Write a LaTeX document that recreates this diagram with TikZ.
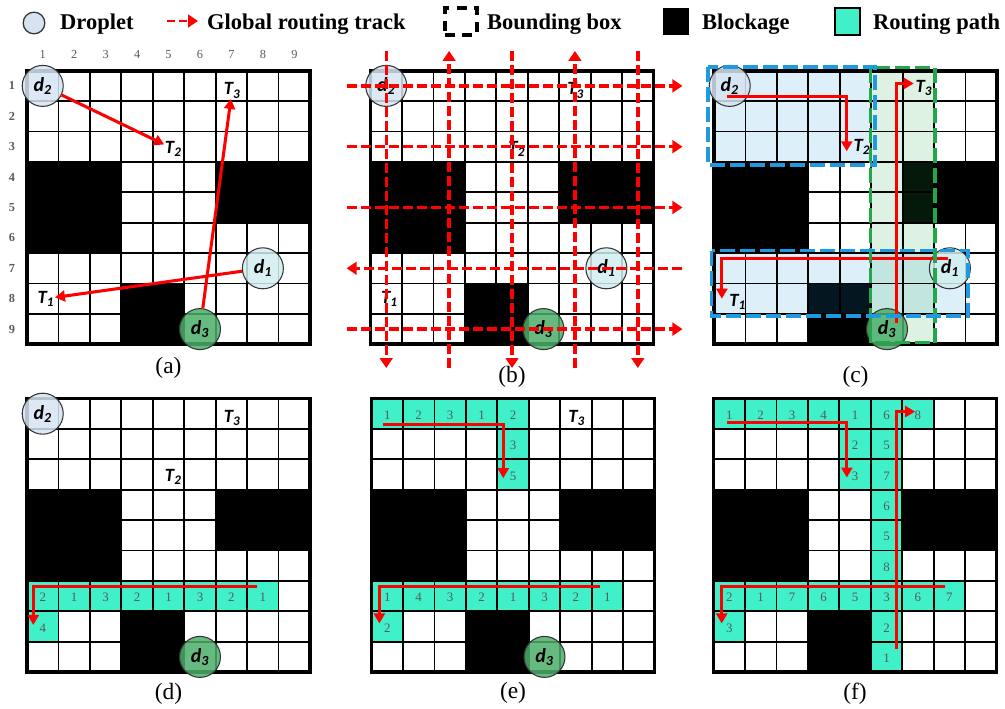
\documentclass[tikz,border=0pt]{standalone}
\usepackage{fontspec}
\setmainfont{Liberation Serif}
\newfontfamily\lblfont{Carlito}
\usepackage{tikz}
\usetikzlibrary{arrows.meta}
\definecolor{tealpath}{HTML}{40F0C8}
\definecolor{dblue}{HTML}{D6E4F2}
\definecolor{dcyan}{HTML}{D2EEF0}
\definecolor{dgreen}{HTML}{4CAF6A}
\definecolor{boxblue}{HTML}{1E9BE0}
\definecolor{boxgreen}{HTML}{22A84A}
\definecolor{labgray}{HTML}{5A5A5A}
\tikzstyle{droplet} = [circle, draw=black!80, line width=0.9pt, minimum size=12.3mm, inner sep=0pt, fill opacity=0.85, text opacity=1, font=\lblfont\bfseries\itshape\fontsize{17}{17}\selectfont]
\tikzstyle{target} = [inner sep=0.5pt, font=\lblfont\bfseries\itshape\fontsize{16}{16}\selectfont]
\tikzstyle{route} = [draw=red, line width=2.6pt, -{Triangle[length=3mm, width=3.3mm]}]
\tikzstyle{track} = [draw=red, line width=2.9pt, dash pattern=on 3mm off 1.2mm, -{Triangle[length=3mm, width=3.8mm]}]
\tikzstyle{bbox} = [line width=2.8pt, dash pattern=on 4.5mm off 1.5mm]
\tikzstyle{cellnum} = [inner sep=0pt, text=black!65, font=\fontsize{11}{11}\selectfont]
\tikzstyle{collabel} = [inner sep=0pt, text=labgray, font=\fontsize{10.5}{10.5}\selectfont]
\tikzstyle{rowlabel} = [collabel, font=\bfseries\fontsize{10.5}{10.5}\selectfont]
\tikzstyle{legendtext} = [anchor=base west, inner sep=0pt, font=\bfseries\fontsize{19.2}{20}\selectfont]
\tikzstyle{caption} = [font=\fontsize{20}{20}\selectfont]
\tikzstyle{pathcell} = [fill=tealpath]
% chip with blockages
\newcommand{\chipbase}{%
  \fill[white] (0,0) rectangle (9,9);
  \fill[black] (0,3) rectangle (3,6);
  \fill[black] (6,3) rectangle (9,5);
  \fill[black] (3,7) rectangle (5,9);
}
% electrode grid
\newcommand{\chiplines}{%
  \foreach \i in {1,...,8} {
    \draw[line width=1.5pt] (\i,0) -- (\i,9);
    \draw[line width=1.5pt] (0,\i) -- (9,\i);
  }
  \draw[line width=3.2pt] (0,0) rectangle (9,9);
}
\begin{document}
\begin{tikzpicture}[x=0.3mm, y=-0.3mm]
    \useasboundingbox (0,0) rectangle (1005,709);

    % legend
    \node[circle, draw=black!80, line width=1.1pt, fill=dblue, minimum size=6.5mm, inner sep=0pt] (legdrop) at (34,23) {};
    \node[legendtext] (legdroptxt) at (60,30) {Droplet};
    \coordinate (legtrks) at (167,21);
    \coordinate (legtrke) at (198,21);
    \path[track, line width=2.4pt, dash pattern=on 2.4mm off 1.2mm] (legtrks) -- (legtrke);
    \node[legendtext] (legtrktxt) at (207,30) {Global routing track};
    \node[draw=black, line width=2.6pt, dash pattern=on 3mm off 2.2mm, minimum width=9.6mm, minimum height=8.1mm, inner sep=0pt] (legbox) at (461,21.5) {};
    \node[legendtext] (legboxtxt) at (487,30) {Bounding box};
    \node[fill=black, minimum width=7.8mm, minimum height=8.1mm, inner sep=0pt] (legblock) at (676,21.5) {};
    \node[legendtext] (legblocktxt) at (702,30) {Blockage};
    \node[pathcell, draw=black, line width=1.2pt, minimum width=7.5mm, minimum height=8.1mm, inner sep=0pt] (legpath) at (847.5,21.5) {};
    \node[legendtext] (legpathtxt) at (873,30) {Routing path};

    % (a) droplets and targets
    \begin{scope}[shift={(27,70.7)}, x=9.435mm, y=-9.12mm, name prefix=a-]
    \chipbase
    \chiplines
    \foreach \i in {1,...,9} {
        \node[collabel] (col\i) at (\i-0.5,-0.52) {\i};
        \node[rowlabel] (row\i) at (-0.48,\i-0.5) {\i};
    }
    \node[droplet, fill=dblue] (d2) at (0.5,0.5) {d\textsubscript{2}};
    \node[droplet, fill=dcyan] (d1) at (7.5,6.5) {d\textsubscript{1}};
    \node[droplet, fill=dgreen] (d3) at (5.5,8.5) {d\textsubscript{3}};
    \node[target] (T3) at (6.52,0.65) {T\textsubscript{3}};
    \node[target] (T2) at (4.65,2.57) {T\textsubscript{2}};
    \node[target] (T1) at (0.6,7.5) {T\textsubscript{1}};
    \path[route] (d2) -- (T2);
    \path[route] (d3) -- (T3);
    \path[route] (d1) -- (T1);
    \end{scope}
    \node[caption] (capa) at (168.5,368) {(a)};

    % (b) global routing tracks
    \begin{scope}[shift={(370.5,70.7)}, x=9.435mm, y=-9.12mm, name prefix=b-]
    \chipbase
    \chiplines
    \node[droplet, fill=dblue] (d2) at (0.5,0.5) {d\textsubscript{2}};
    \node[droplet, fill=dcyan] (d1) at (7.5,6.5) {d\textsubscript{1}};
    \node[droplet, fill=dgreen] (d3) at (5.5,8.5) {d\textsubscript{3}};
    \node[target] (T3) at (6.52,0.65) {T\textsubscript{3}};
    \node[target] (T2) at (4.65,2.57) {T\textsubscript{2}};
    \node[target] (T1) at (0.6,7.5) {T\textsubscript{1}};
    \foreach \r in {1,3,5,7,9} {
        \coordinate (w\r) at (-0.76,\r-0.5);
        \coordinate (e\r) at (9.92,\r-0.5);
    }
    \foreach \c in {1,3,5,7,9} {
        \coordinate (n\c) at (\c-0.5,-0.65);
        \coordinate (s\c) at (\c-0.5,9.78);
    }
    \foreach \r in {1,3,5,9} \path[track] (w\r) -- (e\r);
    \path[track] (e7) -- (w7);
    \foreach \c in {1,5,9} \path[track] (n\c) -- (s\c);
    \foreach \c in {3,7} \path[track] (s\c) -- (n\c);
    \end{scope}
    \node[caption] (capb) at (512,377) {(b)};

    % (c) bounding boxes
    \begin{scope}[shift={(714,70.7)}, x=9.435mm, y=-9.12mm, name prefix=c-]
    \chipbase
    \fill[boxblue, fill opacity=0.15] (0,0) rectangle (5,3);
    \fill[boxblue, fill opacity=0.15] (0,6) rectangle (8,8);
    \fill[boxgreen, fill opacity=0.15] (5,0) rectangle (7,9);
    \chiplines
    \node[droplet, fill=dblue] (d2) at (0.5,0.5) {d\textsubscript{2}};
    \node[droplet, fill=dcyan] (d1) at (7.5,6.5) {d\textsubscript{1}};
    \node[droplet, fill=dgreen] (d3) at (5.5,8.5) {d\textsubscript{3}};
    \node[target] (T3) at (6.67,0.57) {T\textsubscript{3}};
    \node[target] (T2) at (4.7,2.51) {T\textsubscript{2}};
    \node[target] (T1) at (0.75,7.6) {T\textsubscript{1}};
    \coordinate (p2s) at (0.4,0.85);
    \coordinate (p2e) at (4.22,2.65);
    \coordinate (p3s) at (5.8,8.3);
    \coordinate (p3e) at (6.35,0.42);
    \coordinate (p1s) at (7.45,6.17);
    \coordinate (p1e) at (0.25,7.5);
    \path[route] (p2s) -| (p2e);
    \path[route] (p3s) |- (p3e);
    \path[route] (p1s) -| (p1e);
    \draw[bbox, draw=boxgreen] (4.97,-0.1) rectangle (7.03,8.95);
    \draw[bbox, draw=boxblue] (-0.19,-0.12) rectangle (5.12,3.1);
    \draw[bbox, draw=boxblue] (-0.07,5.92) rectangle (8.08,8.07);
    \end{scope}
    \node[caption] (capc) at (855.5,377) {(c)};

    % (d) routing d1
    \begin{scope}[shift={(27,398.5)}, x=9.435mm, y=-9.12mm, name prefix=d-]
    \chipbase
    \foreach \cc/\rr/\k in {1/7/2, 2/7/1, 3/7/3, 4/7/2, 5/7/1, 6/7/3, 7/7/2, 8/7/1, 1/8/4} {
        \fill[pathcell] (\cc-1,\rr-1) rectangle (\cc,\rr);
        \node[cellnum] (m\cc\rr) at (\cc-0.5,\rr-0.45) {\k};
    }
    \chiplines
    \node[droplet, fill=dblue] (d2) at (0.5,0.5) {d\textsubscript{2}};
    \node[droplet, fill=dgreen] (d3) at (5.5,8.5) {d\textsubscript{3}};
    \node[target] (T3) at (6.52,0.65) {T\textsubscript{3}};
    \node[target] (T2) at (4.65,2.57) {T\textsubscript{2}};
    \coordinate (q1s) at (7.3,6.17);
    \coordinate (q1e) at (0.2,7.45);
    \path[route] (q1s) -| (q1e);
    \end{scope}
    \node[caption] (capd) at (168.5,694) {(d)};

    % (e) routing d2
    \begin{scope}[shift={(371.5,398.5)}, x=9.435mm, y=-9.12mm, name prefix=e-]
    \chipbase
    \foreach \cc/\rr/\k in {1/1/1, 2/1/2, 3/1/3, 4/1/1, 5/1/2, 5/2/3, 5/3/5,
        1/7/1, 2/7/4, 3/7/3, 4/7/2, 5/7/1, 6/7/3, 7/7/2, 8/7/1, 1/8/2} {
        \fill[pathcell] (\cc-1,\rr-1) rectangle (\cc,\rr);
        \node[cellnum] (m\cc\rr) at (\cc-0.5,\rr-0.45) {\k};
    }
    \chiplines
    \node[droplet, fill=dgreen] (d3) at (5.5,8.5) {d\textsubscript{3}};
    \node[target] (T3) at (6.52,0.65) {T\textsubscript{3}};
    \coordinate (q2s) at (0.375,0.84);
    \coordinate (q2e) at (4.19,2.62);
    \coordinate (q1s) at (7.27,6.19);
    \coordinate (q1e) at (0.25,7.4);
    \path[route] (q2s) -| (q2e);
    \path[route] (q1s) -| (q1e);
    \end{scope}
    \node[caption] (cape) at (513,693) {(e)};

    % (f) routing d3
    \begin{scope}[shift={(713.5,398.5)}, x=9.435mm, y=-9.12mm, name prefix=f-]
    \chipbase
    \foreach \cc/\rr/\k in {1/1/1, 2/1/2, 3/1/3, 4/1/4, 5/1/1, 6/1/6, 7/1/8,
        5/2/2, 6/2/5, 5/3/3, 6/3/7, 6/4/6, 6/5/5, 6/6/8,
        1/7/2, 2/7/1, 3/7/7, 4/7/6, 5/7/5, 6/7/3, 7/7/6, 8/7/7,
        1/8/3, 6/8/2, 6/9/1} {
        \fill[pathcell] (\cc-1,\rr-1) rectangle (\cc,\rr);
        \node[cellnum] (m\cc\rr) at (\cc-0.5,\rr-0.45) {\k};
    }
    \chiplines
    \coordinate (q2s) at (0.42,0.8);
    \coordinate (q2e) at (4.24,2.6);
    \coordinate (q1s) at (7.36,6.17);
    \coordinate (q1e) at (0.26,7.4);
    \coordinate (q3s) at (5.83,8.24);
    \coordinate (q3e) at (6.41,0.43);
    \path[route] (q2s) -| (q2e);
    \path[route] (q1s) -| (q1e);
    \path[route] (q3s) |- (q3e);
    \end{scope}
    \node[caption] (capf) at (855,694) {(f)};
\end{tikzpicture}
\end{document}
